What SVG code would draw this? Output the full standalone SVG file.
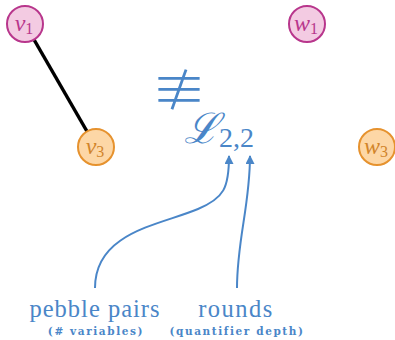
<svg xmlns="http://www.w3.org/2000/svg" width="395" height="340" viewBox="0 0 395 340">
<defs>
<style>
.pink circle{fill:#f3cbe2;stroke:#b8368c;stroke-width:2}
.orange circle{fill:#fdd7a6;stroke:#e6922e;stroke-width:2}
.lbl{font-family:"Liberation Serif",serif;font-style:italic;font-size:24px;text-anchor:middle}
.sub{font-size:16px;font-style:normal}
.pink text{fill:#b8368c}
.orange text{fill:#d1842a}
.blue{fill:#4a86c8}
.main{font-family:"Liberation Serif",serif;font-size:24.5px;text-anchor:middle}
.cap{font-family:"DejaVu Serif",serif;font-weight:bold;font-size:10.5px;text-anchor:middle;letter-spacing:1.6px}
.conn{fill:none;stroke:#4a86c8;stroke-width:2}
</style>
<marker id="ah" viewBox="0 0 10 10" refX="9" refY="5" markerWidth="10" markerHeight="9" markerUnits="userSpaceOnUse" orient="auto">
<path d="M0,0 L10,5 L0,10 z" fill="#4a86c8"/>
</marker>
</defs>
<g id="connectors">
<line x1="25" y1="24" x2="96" y2="147" stroke="#000" stroke-width="3.5"/>
<path class="conn" d="M95,288 C95,232 160,225 198,209 C224,198 229,188 229,156" marker-end="url(#ah)"/>
<path class="conn" d="M237,288 C237,240 250,205 250,156" marker-end="url(#ah)"/>
</g>
<g id="v1" class="pink"><circle cx="25" cy="24" r="18"/><text class="lbl" x="24" y="31">v<tspan class="sub" dy="3">1</tspan></text></g>
<g id="w1" class="pink"><circle cx="307" cy="24" r="18"/><text class="lbl" x="306" y="31">w<tspan class="sub" dy="3">1</tspan></text></g>
<g id="v3" class="orange"><circle cx="96" cy="147" r="18"/><text class="lbl" x="95" y="154">v<tspan class="sub" dy="3">3</tspan></text></g>
<g id="w3" class="orange"><circle cx="377" cy="147" r="18"/><text class="lbl" x="376" y="154">w<tspan class="sub" dy="3">3</tspan></text></g>
<g id="formula">
<text class="blue" x="179" y="110" style="font-family:'Noto Sans CJK JP',sans-serif;font-weight:300;font-size:56px;text-anchor:middle">≢</text>
<text class="blue" x="184" y="143" style="font-family:'DejaVu Serif',serif;font-size:42px;font-style:italic">ℒ<tspan dy="4" style="font-family:'Liberation Serif',serif;font-size:28px;font-style:normal">2,2</tspan></text>
</g>
<g id="labels">
<text class="blue main" x="95" y="317" letter-spacing="1">pebble pairs</text>
<text class="blue main" x="236" y="317" letter-spacing="1.5">rounds</text>
<text class="blue cap" x="96" y="335">(# variables)</text>
<text class="blue cap" x="237" y="335">(quantifier depth)</text>
</g>
</svg>
